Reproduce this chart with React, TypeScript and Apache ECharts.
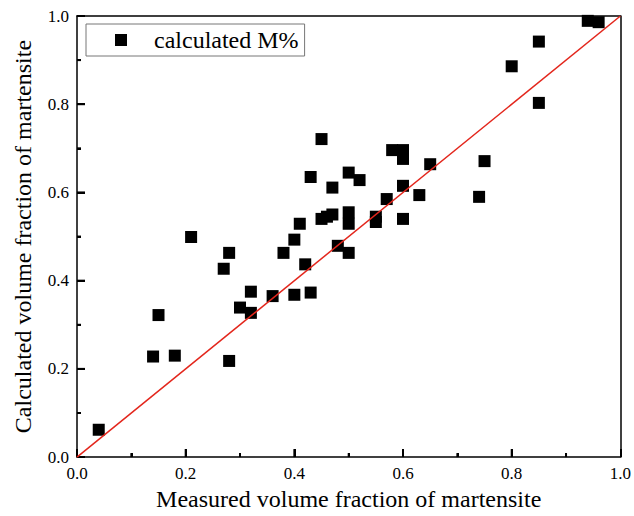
import React, { useEffect, useRef } from "react";
import * as echarts from "echarts";

const measured: number[] = [
  0.04, 0.14, 0.15, 0.18, 0.21, 0.27, 0.28, 0.28, 0.30, 0.32, 0.32, 0.36, 0.38, 0.40, 0.40,
  0.41, 0.42, 0.43, 0.45, 0.46, 0.47, 0.48, 0.50, 0.50, 0.50, 0.45, 0.43, 0.47, 0.50, 0.52,
  0.55, 0.55, 0.57, 0.60, 0.60, 0.63, 0.58, 0.60, 0.60, 0.65, 0.74, 0.75, 0.80, 0.85, 0.85,
  0.94, 0.96,
];
const calculated: number[] = [
  0.062, 0.228, 0.322, 0.230, 0.499, 0.427, 0.463, 0.218, 0.339, 0.375, 0.327, 0.365, 0.463, 0.493, 0.368,
  0.529, 0.437, 0.373, 0.540, 0.545, 0.550, 0.479, 0.555, 0.529, 0.463, 0.721, 0.635, 0.611, 0.645, 0.628,
  0.545, 0.533, 0.585, 0.540, 0.615, 0.594, 0.696, 0.696, 0.676, 0.664, 0.590, 0.671, 0.886, 0.942, 0.803,
  0.989, 0.986,
];
const refLine: number[][] = [
  [0, 0],
  [1, 1],
];
const tickValues: number[] = [0.1, 0.2, 0.3, 0.4, 0.5, 0.6, 0.7, 0.8, 0.9];
const xTicks = { min: 0, max: 1, interval: 0.2 };
const yTicks = { min: 0, max: 1, interval: 0.2 };
const seriesName = "calculated M%";
const xName = "Measured volume fraction of martensite";
const yName = "Calculated volume fraction of martensite";

const FONT = "'Times New Roman', 'Liberation Serif', serif";

function mainAxis(name: string, nameGap: number, position: string, t: { min: number; max: number; interval: number }) {
  return {
    type: "value",
    position,
    min: t.min,
    max: t.max,
    interval: t.interval,
    name,
    nameGap,
    nameLocation: "middle",
    nameTextStyle: { color: "#000", fontFamily: FONT, fontSize: 24 },
    axisLine: { show: true, onZero: false, lineStyle: { color: "#000", width: 1.5 } },
    axisTick: { show: true, inside: true, length: 8, lineStyle: { color: "#000", width: 2 } },
    minorTick: { show: true, splitNumber: 2, length: 4, lineStyle: { color: "#000", width: 2 } },
    splitLine: { show: false },
    minorSplitLine: { show: false },
    axisLabel: {
      show: true,
      color: "#000",
      fontFamily: FONT,
      fontSize: 17,
      margin: 8,
      formatter: (v: number) => v.toFixed(1),
    },
  };
}

function frameAxis(position: string, t: { min: number; max: number; interval: number }) {
  return {
    type: "value",
    position,
    min: t.min,
    max: t.max,
    interval: t.interval,
    axisLine: { show: true, onZero: false, lineStyle: { color: "#000", width: 1.5 } },
    axisTick: { show: false },
    minorTick: { show: false },
    splitLine: { show: false },
    axisLabel: { show: false },
  };
}

function tickSeries(horizontal: boolean) {
  return {
    type: "custom",
    silent: true,
    z: 10,
    xAxisIndex: 0,
    yAxisIndex: 0,
    clip: false,
    data: tickValues.map((v) => (horizontal ? [v, 0] : [0, v])),
    renderItem: (_params: any, api: any) => {
      const vx = api.value(0);
      const vy = api.value(1);
      const p = api.coord([vx, vy]);
      const v = horizontal ? vx : vy;
      const major = Math.round(v * 10) % 2 === 0;
      const len = major ? 8 : 4;
      const shape = horizontal
        ? { x1: p[0], y1: p[1], x2: p[0], y2: p[1] - len }
        : { x1: p[0], y1: p[1], x2: p[0] + len, y2: p[1] };
      return { type: "line", shape, style: { stroke: "#000", lineWidth: 2 } };
    },
  };
}

export default function App() {
  const ref = useRef<HTMLDivElement>(null);
  useEffect(() => {
    if (!ref.current) return;
    const chart = echarts.init(ref.current, undefined, { renderer: "svg" });
    chart.setOption({
      animation: false,
      backgroundColor: "#fff",
      grid: { left: 77, right: 12, top: 16, bottom: 57 },
      legend: {
        show: true,
        left: 86,
        top: 24,
        orient: "horizontal",
        data: [{ name: seriesName, icon: "rect" }],
        itemWidth: 12,
        itemHeight: 12,
        padding: [4, 6, 4, 29],
        borderColor: "#777",
        borderWidth: 1,
        borderRadius: 0,
        textStyle: { color: "#000", fontFamily: FONT, fontSize: 24, padding: [0, 0, 0, 22] },
      },
      xAxis: [mainAxis(xName, 26, "bottom", xTicks), frameAxis("top", xTicks)],
      yAxis: [mainAxis(yName, 42, "left", yTicks), frameAxis("right", yTicks)],
      series: [
        {
          name: "reference",
          type: "line",
          data: refLine,
          symbol: "none",
          lineStyle: { color: "#e3261c", width: 1.5 },
          silent: true,
          z: 3,
        },
        {
          name: seriesName,
          type: "scatter",
          data: measured.map((x, i) => [x, calculated[i]]),
          symbol: "rect",
          symbolSize: 12,
          itemStyle: { color: "#000", opacity: 1 },
          z: 2,
        },
        tickSeries(true),
        tickSeries(false),
      ],
    });
    return () => chart.dispose();
  }, []);
  return (
    <div
      ref={ref}
      style={{ position: "fixed", left: 0, top: 0, width: 634, height: 516, background: "#fff" }}
    />
  );
}
